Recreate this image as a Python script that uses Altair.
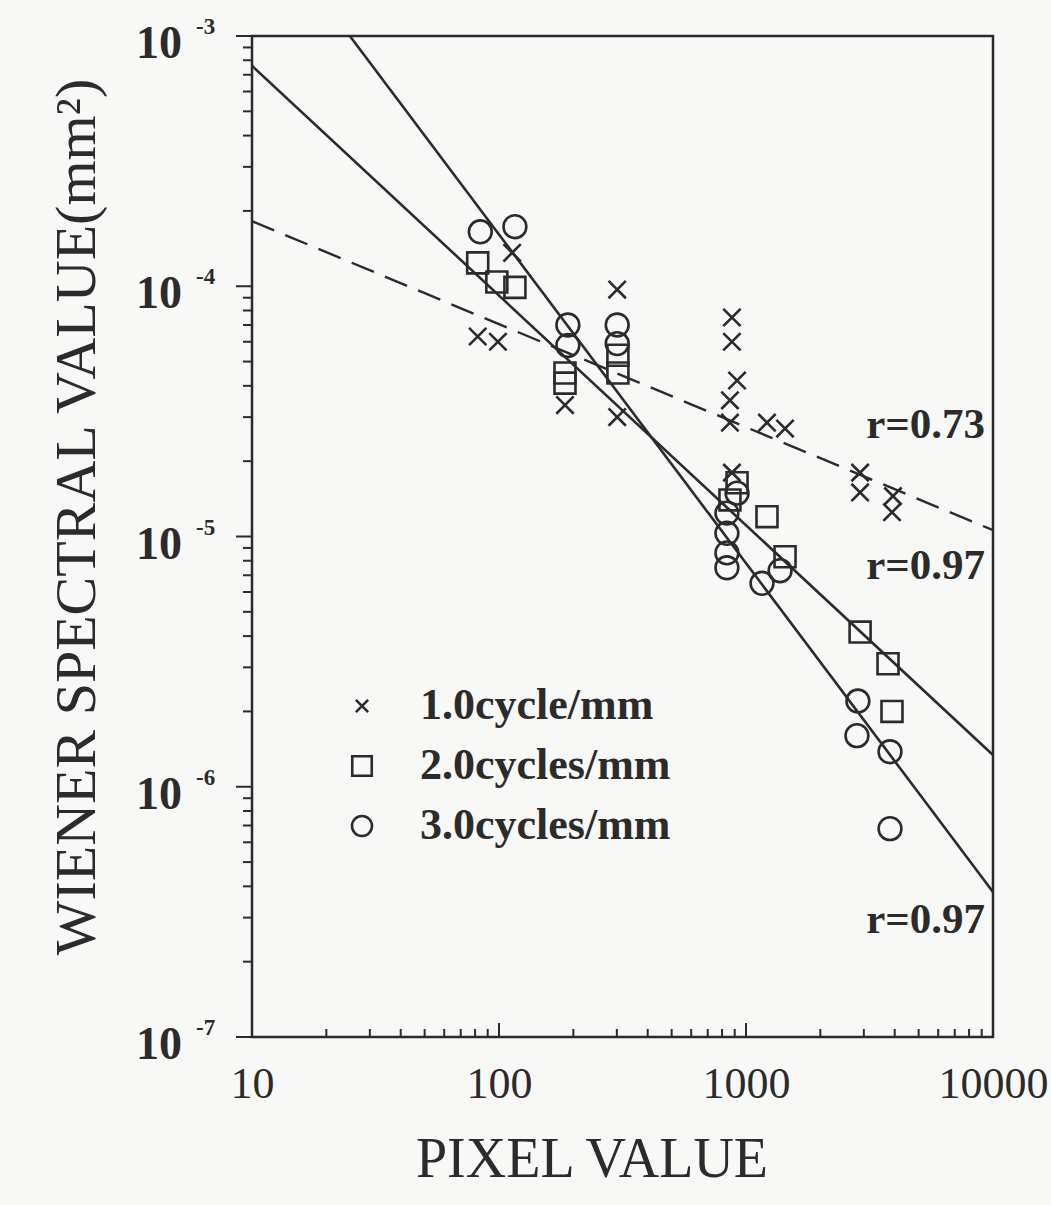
import altair as alt
import pandas as pd

# ---------------- data ----------------
cross_x = [82, 99, 113, 185, 301, 301, 877, 877, 920, 861, 861, 1216, 1439, 877, 2897, 2897, 3936, 3900]
cross_y = [6.3e-5, 6.0e-5, 1.36e-4, 3.35e-5, 9.7e-5, 3.0e-5, 7.5e-5, 6.0e-5, 4.2e-5, 3.5e-5,
           2.85e-5, 2.85e-5, 2.7e-5, 1.8e-5, 1.8e-5, 1.5e-5, 1.45e-5, 1.25e-5]

square_x = [82, 98, 116, 185, 185, 303, 303, 920, 861, 1216, 1439, 2897, 3758, 3900]
square_y = [1.24e-4, 1.04e-4, 9.9e-5, 4.5e-5, 4.1e-5, 5.3e-5, 4.5e-5, 1.64e-5, 1.4e-5,
            1.2e-5, 8.3e-6, 4.15e-6, 3.1e-6, 2.0e-6]

circle_x = [84, 116, 190, 190, 301, 301, 920, 837, 837, 837, 837, 1374, 1161, 2838, 2813, 3829, 3829]
circle_y = [1.65e-4, 1.73e-4, 7.0e-5, 5.8e-5, 7.0e-5, 5.9e-5, 1.49e-5, 1.24e-5, 1.03e-5,
            8.6e-6, 7.5e-6, 7.3e-6, 6.5e-6, 2.2e-6, 1.6e-6, 1.38e-6, 6.8e-7]

# regression lines (end points)
fit1_x = [10, 10000]
fit1_y = [1.82e-4, 1.06e-5]     # 1.0 cycle/mm, dashed, r=0.73
fit2_x = [10, 10000]
fit2_y = [7.6e-4, 1.34e-6]      # 2.0 cycles/mm, r=0.97
fit3_x = [24.9, 10000]
fit3_y = [1.0e-3, 3.8e-7]       # 3.0 cycles/mm, r=0.97

legend_labels = ["1.0cycle/mm", "2.0cycles/mm", "3.0cycles/mm"]
r_labels = ["r=0.73", "r=0.97", "r=0.97"]
x_tick_labels = [10, 100, 1000, 10000]
y_tick_values = [1e-3, 1e-4, 1e-5, 1e-6, 1e-7]
y_tick_sup = ["-3", "-4", "-5", "-6", "-7"]

# ---------------- layout ----------------
W, H = 741, 1001
INK = "#2b2b2b"
SERIF = "Liberation Serif"

xscale = alt.Scale(type="log", domain=[10, 10000], nice=False)
yscale = alt.Scale(type="log", domain=[1e-7, 1e-3], nice=False)
xaxis = alt.Axis(values=x_tick_labels, format="d", ticks=False, domain=False, grid=False,
                 labelFont=SERIF, labelFontSize=44, labelColor=INK, labelPadding=25,
                 labelFlush=False, labelOverlap=False, title=None)


def X(f):
    return alt.X(f, type="quantitative", scale=xscale, axis=xaxis)


def Y(f):
    return alt.Y(f, type="quantitative", scale=yscale, axis=None)


def pts(xs, ys):
    return pd.DataFrame({"x": xs, "y": ys})


cross_path = "M-1,-1L1,1M-1,1L1,-1"

crosses = alt.Chart(pts(cross_x, cross_y)).mark_point(
    shape=cross_path, filled=False, size=300, strokeWidth=2.6, color=INK, opacity=1
).encode(x=X("x"), y=Y("y"))
squares = alt.Chart(pts(square_x, square_y)).mark_point(
    shape="square", filled=False, size=440, strokeWidth=2.6, color=INK, opacity=1
).encode(x=X("x"), y=Y("y"))
circles = alt.Chart(pts(circle_x, circle_y)).mark_point(
    shape="circle", filled=False, size=520, strokeWidth=2.6, color=INK, opacity=1
).encode(x=X("x"), y=Y("y"))

line1 = alt.Chart(pts(fit1_x, fit1_y)).mark_line(
    color=INK, strokeWidth=2.4, strokeDash=[24, 12]).encode(x=X("x"), y=Y("y"))
line2 = alt.Chart(pts(fit2_x, fit2_y)).mark_line(
    color=INK, strokeWidth=2.6).encode(x=X("x"), y=Y("y"))
line3 = alt.Chart(pts(fit3_x, fit3_y)).mark_line(
    color=INK, strokeWidth=2.6).encode(x=X("x"), y=Y("y"))

# ---------------- ticks ----------------
x_minor = [m * 10 ** k for k in (1, 2, 3) for m in range(2, 10)]
x_major = [100, 1000]
y_minor = [m * 10.0 ** k for k in (-7, -6, -5, -4) for m in range(2, 10)]

xt_minor = alt.Chart(pd.DataFrame({"v": x_minor})).mark_rule(color=INK, strokeWidth=2).encode(
    x=X("v"), y=alt.value(H), y2=alt.value(H - 8))
xt_major = alt.Chart(pd.DataFrame({"v": x_major})).mark_rule(color=INK, strokeWidth=2).encode(
    x=X("v"), y=alt.value(H), y2=alt.value(H - 14))
yt_minor = alt.Chart(pd.DataFrame({"v": y_minor})).mark_rule(color=INK, strokeWidth=2).encode(
    y=Y("v"), x=alt.value(-9), x2=alt.value(0))
yt_major = alt.Chart(pd.DataFrame({"v": y_tick_values})).mark_rule(color=INK, strokeWidth=2).encode(
    y=Y("v"), x=alt.value(-16), x2=alt.value(0))

# y tick labels: "10" with raised exponent
ylab_df = pd.DataFrame({"v": y_tick_values, "base": ["10"] * 5, "sup": y_tick_sup})
ylab_base = alt.Chart(ylab_df).mark_text(
    align="right", baseline="middle", font=SERIF, fontWeight="bold", fontSize=46, color=INK, dy=8
).encode(y=Y("v"), x=alt.value(-70), text="base:N")
ylab_sup = alt.Chart(ylab_df).mark_text(
    align="left", baseline="middle", font=SERIF, fontWeight="bold", fontSize=23, color=INK, dy=-9
).encode(y=Y("v"), x=alt.value(-56), text="sup:N")

# axis titles
ytitle = alt.Chart(pd.DataFrame({"t": ["WIENER SPECTRAL VALUE(mm\u00b2)"]})).mark_text(
    angle=270, align="center", baseline="middle", font=SERIF, fontSize=58, color=INK
).encode(x=alt.value(-174), y=alt.value(481), text="t:N")
xtitle = alt.Chart(pd.DataFrame({"t": ["PIXEL VALUE"]})).mark_text(
    align="center", baseline="middle", font=SERIF, fontSize=56, color=INK
).encode(x=alt.value(340), y=alt.value(1124), text="t:N")

# r labels
r_df = pd.DataFrame({"t": r_labels, "py": [389, 530, 884]})
rtext = alt.Chart(r_df).mark_text(
    align="right", baseline="middle", font=SERIF, fontWeight="bold", fontSize=43, color=INK
).encode(x=alt.value(733), y=alt.Y("py:Q", scale=None), text="t:N")

# legend (inside plot)
leg_df = pd.DataFrame({"t": legend_labels, "py": [670, 730, 790]})
leg_text = alt.Chart(leg_df).mark_text(
    align="left", baseline="middle", font=SERIF, fontWeight="bold", fontSize=44, color=INK
).encode(x=alt.value(168), y=alt.Y("py:Q", scale=None), text="t:N")
leg_cross = alt.Chart(leg_df.iloc[[0]]).mark_point(
    shape=cross_path, filled=False, size=150, strokeWidth=2.6, color=INK, opacity=1
).encode(x=alt.value(110), y=alt.Y("py:Q", scale=None))
leg_square = alt.Chart(leg_df.iloc[[1]]).mark_point(
    shape="square", filled=False, size=380, strokeWidth=2.6, color=INK, opacity=1
).encode(x=alt.value(110), y=alt.Y("py:Q", scale=None))
leg_circle = alt.Chart(leg_df.iloc[[2]]).mark_point(
    shape="circle", filled=False, size=400, strokeWidth=2.6, color=INK, opacity=1
).encode(x=alt.value(110), y=alt.Y("py:Q", scale=None))

chart = alt.layer(
    line1, line2, line3, crosses, squares, circles,
    xt_minor, xt_major, yt_minor, yt_major, ylab_base, ylab_sup,
    ytitle, xtitle, rtext, leg_text, leg_cross, leg_square, leg_circle
).properties(
    width=W, height=H,
    autosize=alt.AutoSizeParams(type="none"),
    padding={"left": 252, "top": 36, "right": 58, "bottom": 168},
    background="#f8f8f7",
).configure_view(stroke=INK, strokeWidth=2.5)

chart.save("out.html", embed_options={"renderer": "svg", "actions": False})
